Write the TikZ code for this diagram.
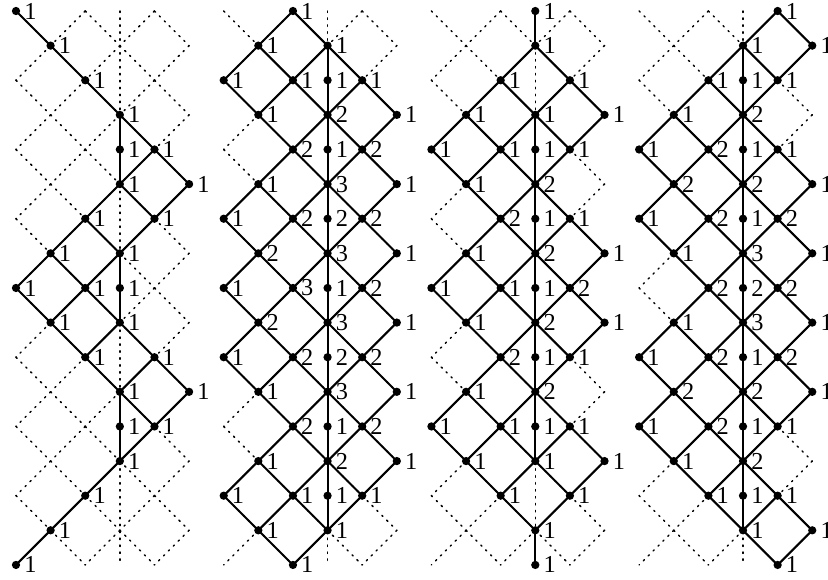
\documentclass[tikz,border=0pt]{standalone}
\usepackage{fontspec}
\setmainfont{Liberation Serif}
\tikzset{
  dot/.style={circle, fill=black, inner sep=0pt, minimum size=6.8pt},
  num/.style={inner sep=0.5pt, font=\fontsize{20}{22}\selectfont},
  lattice/.style={line width=1.2pt, dash pattern=on 1.2pt off 4.5pt},
  bond/.style={line width=1.7pt},
}
% one panel: #1 = name, #2 = shift, #3 = list col/row/label
\newcommand{\panel}[3]{%
  \begin{scope}[xshift=#2cm]
    % dotted background lattice
    \foreach \x in {0,...,5}
      \foreach \y in {0,...,15} {
        \ifodd\numexpr\x+\y\relax\else
          \ifnum\x<5 \draw[lattice] (\x,-\y) -- ++(1,-1);\fi
          \ifnum\x>0 \draw[lattice] (\x,-\y) -- ++(-1,-1);\fi
        \fi
      }
    \draw[lattice] (3,0) -- (3,-16);
    % the points
    \foreach \x/\y/\n in {#3}
      \node[dot, label={[num, label distance=2.5pt]right:\n}] (#1-\x-\y) at (\x,-\y) {};
    % solid edges between neighbouring points
    \foreach \x in {0,...,5}
      \foreach \y in {0,...,15} {
        \pgfmathtruncatemacro\yn{\y+1}
        \pgfmathtruncatemacro\xl{\x-1}
        \pgfmathtruncatemacro\xr{\x+1}
        \ifcsname pgf@sh@ns@#1-\x-\y\endcsname
          \ifcsname pgf@sh@ns@#1-\xl-\yn\endcsname \draw[bond] (#1-\x-\y.center) -- (#1-\xl-\yn.center);\fi
          \ifcsname pgf@sh@ns@#1-\xr-\yn\endcsname \draw[bond] (#1-\x-\y.center) -- (#1-\xr-\yn.center);\fi
          \ifcsname pgf@sh@ns@#1-\x-\yn\endcsname \draw[bond] (#1-\x-\y.center) -- (#1-\x-\yn.center);\fi
        \fi
      }
  \end{scope}}

\begin{document}
\begin{tikzpicture}[line join=round, line cap=round]
  \useasboundingbox (-0.462,0.318) rectangle (23.455,-16.435);

  \panel{A}{0}{0/0/1, 1/1/1, 2/2/1, 3/3/1, 3/4/1, 4/4/1, 3/5/1, 5/5/1,
    2/6/1, 4/6/1, 1/7/1, 3/7/1, 0/8/1, 2/8/1, 3/8/1, 1/9/1, 3/9/1,
    2/10/1, 4/10/1, 3/11/1, 5/11/1, 3/12/1, 4/12/1, 3/13/1, 2/14/1,
    1/15/1, 0/16/1}

  \panel{B}{6}{2/0/1, 1/1/1, 3/1/1, 0/2/1, 2/2/1, 3/2/1, 4/2/1, 1/3/1,
    3/3/2, 5/3/1, 2/4/2, 3/4/1, 4/4/2, 1/5/1, 3/5/3, 5/5/1, 0/6/1,
    2/6/2, 3/6/2, 4/6/2, 1/7/2, 3/7/3, 5/7/1, 0/8/1, 2/8/3, 3/8/1,
    4/8/2, 1/9/2, 3/9/3, 5/9/1, 0/10/1, 2/10/2, 3/10/2, 4/10/2,
    1/11/1, 3/11/3, 5/11/1, 2/12/2, 3/12/1, 4/12/2, 1/13/1, 3/13/2,
    5/13/1, 0/14/1, 2/14/1, 3/14/1, 4/14/1, 1/15/1, 3/15/1, 2/16/1}

  \panel{C}{12}{3/0/1, 3/1/1, 2/2/1, 4/2/1, 1/3/1, 3/3/1, 5/3/1, 0/4/1,
    2/4/1, 3/4/1, 4/4/1, 1/5/1, 3/5/2, 2/6/2, 3/6/1, 4/6/1, 1/7/1,
    3/7/2, 5/7/1, 0/8/1, 2/8/1, 3/8/1, 4/8/2, 1/9/1, 3/9/2, 5/9/1,
    2/10/2, 3/10/1, 4/10/1, 1/11/1, 3/11/2, 0/12/1, 2/12/1, 3/12/1,
    4/12/1, 1/13/1, 3/13/1, 5/13/1, 2/14/1, 4/14/1, 3/15/1, 3/16/1}

  \panel{D}{18}{4/0/1, 3/1/1, 5/1/1, 2/2/1, 3/2/1, 4/2/1, 1/3/1, 3/3/2,
    0/4/1, 2/4/2, 3/4/1, 4/4/1, 1/5/2, 3/5/2, 5/5/1, 0/6/1, 2/6/2,
    3/6/1, 4/6/2, 1/7/1, 3/7/3, 5/7/1, 2/8/2, 3/8/2, 4/8/2, 1/9/1,
    3/9/3, 5/9/1, 0/10/1, 2/10/2, 3/10/1, 4/10/2, 1/11/2, 3/11/2,
    5/11/1, 0/12/1, 2/12/2, 3/12/1, 4/12/1, 1/13/1, 3/13/2, 2/14/1,
    3/14/1, 4/14/1, 3/15/1, 5/15/1, 4/16/1}
\end{tikzpicture}
\end{document}
